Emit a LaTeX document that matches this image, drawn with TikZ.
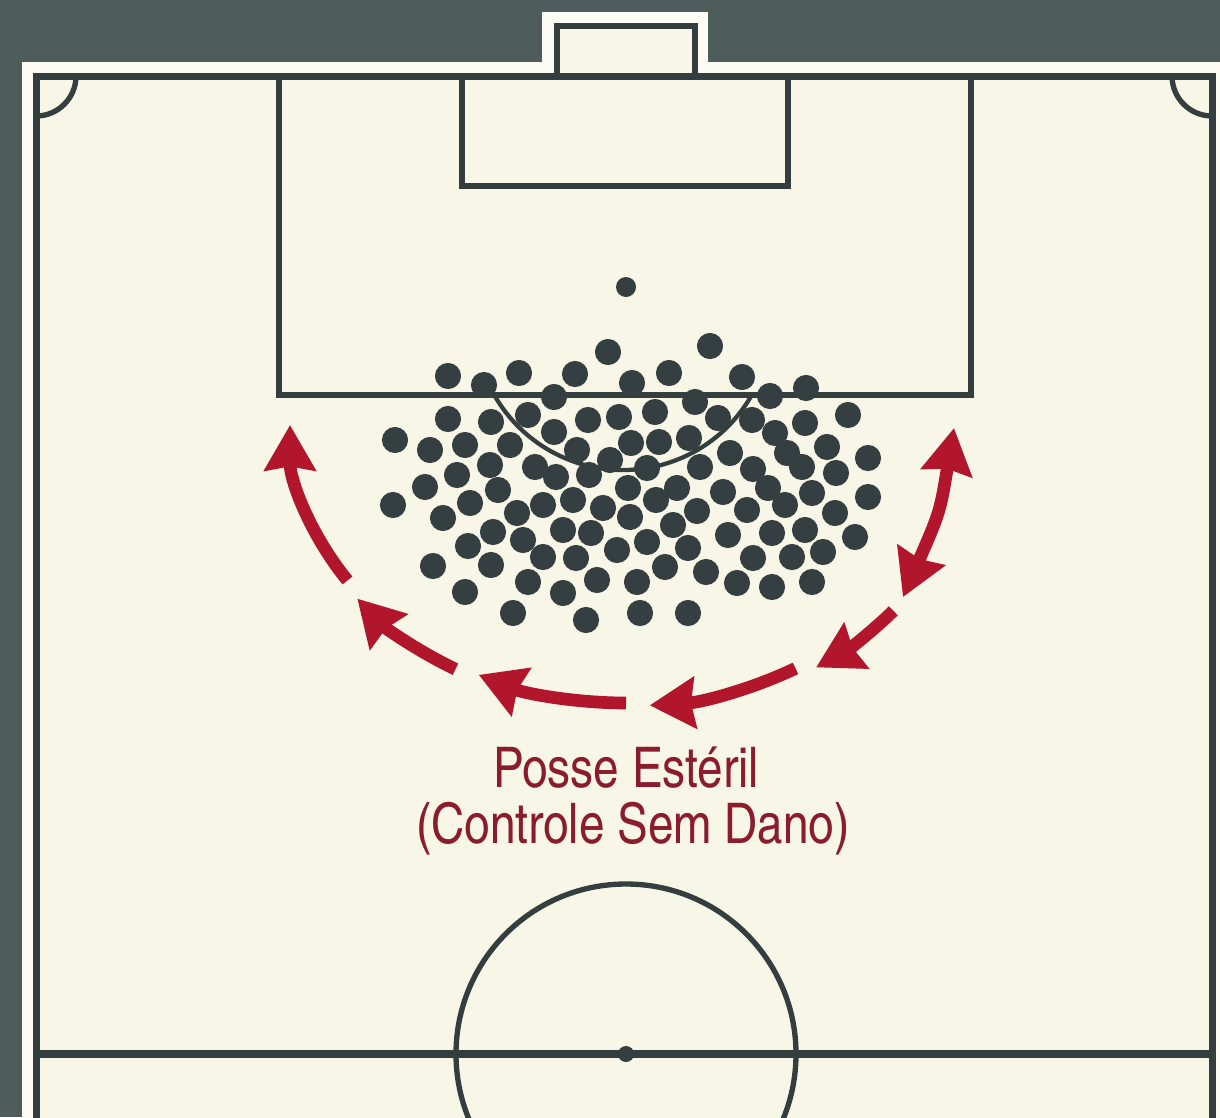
\documentclass[tikz,border=0pt]{standalone}
\usepackage{fontspec}
\usetikzlibrary{arrows.meta}
\newfontfamily\lblfont{texgyreheroscn-regular.otf}
\definecolor{bgc}{RGB}{79,92,92}
\definecolor{stripc}{RGB}{252,252,244}
\definecolor{pitchc}{RGB}{248,246,230}
\definecolor{linec}{RGB}{52,62,62}
\definecolor{dotc}{RGB}{53,63,66}
\definecolor{arrowc}{RGB}{178,22,44}
\definecolor{textc}{RGB}{138,28,44}
\tikzset{
  fieldline/.style={draw=linec, line width=4pt},
  borderline/.style={draw=linec, line width=5.25pt},
  player/.style={fill=dotc},
  redarrow/.style={draw=arrowc, line width=9.5pt, -{Stealth[length=34pt, width=38pt, inset=3pt]}},
  redarrowboth/.style={draw=arrowc, line width=9.5pt, {Stealth[length=34pt, width=38pt, inset=3pt]}-{Stealth[length=34pt, width=38pt, inset=3pt]}},
  lbl/.style={anchor=base, text=textc, inner sep=0pt, font=\lblfont\fontsize{42}{42}\selectfont}
}
\begin{document}
\begin{tikzpicture}[x=0.75pt, y=-0.75pt]
\useasboundingbox (0,0) rectangle (1220,1117);
\clip (0,0) rectangle (1220,1117);
% background
\fill[bgc] (0,0) rectangle (1220,1117);
% white outer strip
\fill[stripc] (22,62) rectangle (1250,1150);
\fill[stripc] (542,12) rectangle (708,70);
% pitch
\filldraw[fill=pitchc, borderline] (36,76) rectangle (1212,1180);
% goal
\filldraw[fill=pitchc, fieldline] (557,76) -- (557,26) -- (695,26) -- (695,76);
\draw[borderline] (36,76) -- (1212,76);
% corner arcs
\draw[fieldline] (76,76) arc[start angle=0, end angle=90, radius=40];
\draw[fieldline] (1172,76) arc[start angle=180, end angle=90, radius=40];
% penalty box and goal area
\draw[fieldline] (279,76) -- (279,395) -- (971,395) -- (971,76);
\draw[fieldline] (462,76) -- (462,186) -- (788,186) -- (788,76);
% penalty spot
\fill[linec] (626,287) circle[radius=7.5pt];
% penalty arc
\draw[line width=3.2pt, linec] (623,322) ++(29.3:148) arc[start angle=29.3, end angle=150.7, radius=148];
% halfway line and centre circle
\draw[fieldline] (626,1054) circle[radius=127.5pt];
\draw[draw=linec, line width=6pt] (36,1054) -- (1212,1054);
\fill[linec] (626,1054) circle[radius=6pt];
% players
\foreach \px/\py in {448/376, 484/385, 519/373, 575/374, 608/352, 632/383, 669/373, 710/346, 742/377, 770/396, 806/388, 554/397, 695/402,
448/419, 491/422, 528/415, 588/420, 619/417, 655/412, 718/418, 752/420, 805/423, 848/415, 554/432, 775/433,
395/440, 430/450, 465/445, 510/445, 577/450, 631/443, 659/442, 689/438, 730/453, 787/453, 827/447, 868/458, 802/467,
490/465, 535/467, 556/477, 589/475, 610/460, 647/468, 700/467, 753/469, 836/473, 457/475,
425/487, 498/490, 573/500, 628/488, 677/488, 723/492, 768/488, 812/493, 868/497, 393/505,
470/503, 517/513, 543/505, 603/508, 656/500, 697/511, 747/510, 785/505, 835/513, 443/518,
493/532, 523/540, 563/530, 591/533, 630/517, 673/525, 728/535, 772/533, 805/530, 855/537, 468/546,
543/557, 576/558, 617/550, 647/542, 688/548, 753/558, 792/557, 823/552, 433/566, 491/565,
528/582, 597/580, 637/582, 665/567, 706/572, 737/583, 772/587, 812/582, 465/592, 563/593,
513/613, 586/620, 640/613, 688/613}
  \fill[player] (\px,\py) circle[radius=9.8pt];
% circulation arrows
\coordinate (ctr) at (626,425);
\draw[redarrow] (ctr) ++(146:336 and 278) arc[start angle=146, end angle=180, x radius=336, y radius=278];
\draw[redarrow] (ctr) ++(120:341 and 282) arc[start angle=120, end angle=142, x radius=341, y radius=282];
\draw[redarrow] (ctr) ++(90:336 and 278) arc[start angle=90, end angle=116, x radius=336, y radius=278];
\draw[redarrow] (ctr) ++(60:339 and 281) arc[start angle=60, end angle=86, x radius=339, y radius=281];
\draw[redarrow] (ctr) ++(40:349 and 289) arc[start angle=40, end angle=57, x radius=349, y radius=289];
\coordinate (a6top) at (954,428);
\coordinate (a6bot) at (903,597);
\draw[redarrowboth] (a6top) .. controls (940,512) .. (a6bot);
% label
\node[lbl] (l1) at (626,787) {Posse Estéril};
\node[lbl] (l2) at (633,843) {(Controle Sem Dano)};
\end{tikzpicture}
\end{document}
